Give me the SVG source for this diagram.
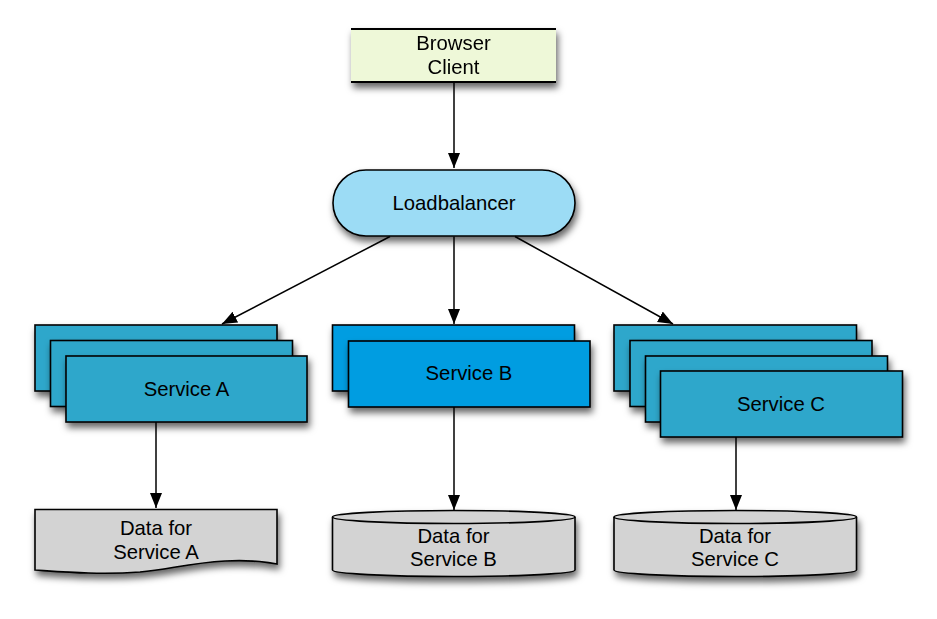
<svg xmlns="http://www.w3.org/2000/svg" width="937" height="619" viewBox="0 0 937 619">
<defs>
<filter id="sh" x="-10%" y="-20%" width="125%" height="150%">
<feDropShadow dx="2" dy="5" stdDeviation="3.5" flood-color="#000" flood-opacity="0.6"/>
</filter>
<marker id="ah" markerUnits="userSpaceOnUse" markerWidth="16" markerHeight="13" refX="15" refY="6" orient="auto">
<path d="M0,0 L15,6 L0,12 Z" fill="#000"/>
</marker>
<style>
text{font-family:"Liberation Sans",Arial,Helvetica,sans-serif;font-size:20.3px;fill:#000;text-anchor:middle}
.svcA{fill:#2EA7CB;stroke:#000;stroke-width:1.6}
.svcB{fill:#069DE1;stroke:#000;stroke-width:1.6}
.data{fill:#D3D3D3;stroke:#000;stroke-width:1.6}
.conn line{stroke:#000;stroke-width:1.5;marker-end:url(#ah)}
</style>
</defs>
<rect width="937" height="619" fill="#fff"/>

<g id="browser" filter="url(#sh)">
<rect x="351" y="29" width="205" height="53" fill="#EEF8D8"/>
<line x1="351" y1="29" x2="556" y2="29" stroke="#000" stroke-width="1.8"/>
<line x1="351" y1="82" x2="556" y2="82" stroke="#000" stroke-width="1.8"/>
<text x="453.5" y="50">Browser</text>
<text x="453.5" y="74">Client</text>
</g>

<g id="loadbalancer">
<rect x="333" y="170" width="242" height="66" rx="33" ry="33" fill="#9CDCF5" stroke="#000" stroke-width="1.6" filter="url(#sh)"/>
<text x="454" y="210">Loadbalancer</text>
</g>

<g id="serviceA">
<rect class="svcA" x="35" y="325" width="242" height="66" filter="url(#sh)"/>
<rect class="svcA" x="50.5" y="340.5" width="242" height="66" filter="url(#sh)"/>
<rect class="svcA" x="66" y="356" width="241" height="66" filter="url(#sh)"/>
<text x="186.5" y="396">Service A</text>
</g>

<g id="serviceB">
<rect class="svcB" x="332.5" y="325" width="242" height="66" filter="url(#sh)"/>
<rect class="svcB" x="348.5" y="341" width="241.5" height="66" filter="url(#sh)"/>
<text x="469" y="380">Service B</text>
</g>

<g id="serviceC">
<rect class="svcA" x="614" y="325" width="242.5" height="66" filter="url(#sh)"/>
<rect class="svcA" x="630" y="340.5" width="242" height="66" filter="url(#sh)"/>
<rect class="svcA" x="645.5" y="356" width="242" height="66" filter="url(#sh)"/>
<rect class="svcA" x="660.5" y="371" width="242" height="66" filter="url(#sh)"/>
<text x="781" y="411">Service C</text>
</g>

<g id="dataA">
<path class="data" filter="url(#sh)" d="M35,509.5 H277 V564 C262,561 245,560 225,561 C190,563 170,569 140,572 C100,575 65,572 35,570 Z"/>
<text x="156" y="535">Data for</text>
<text x="156" y="559">Service A</text>
</g>

<g id="dataB">
<path class="data" filter="url(#sh)" d="M332.5,517 A121.25,6.5 0 0 1 575,517 V570 A121.25,6.5 0 0 1 332.5,570 Z"/>
<path d="M332.5,517 A121.25,6.5 0 0 0 575,517" fill="none" stroke="#000" stroke-width="1.6"/>
<text x="453.5" y="543">Data for</text>
<text x="453.5" y="566">Service B</text>
</g>

<g id="dataC">
<path class="data" filter="url(#sh)" d="M614,517 A121.25,6.5 0 0 1 856.5,517 V570 A121.25,6.5 0 0 1 614,570 Z"/>
<path d="M614,517 A121.25,6.5 0 0 0 856.5,517" fill="none" stroke="#000" stroke-width="1.6"/>
<text x="735" y="543">Data for</text>
<text x="735" y="566">Service C</text>
</g>

<g id="connectors" class="conn">
<line x1="454" y1="82" x2="454" y2="168"/>
<line x1="390" y1="236.5" x2="222" y2="324"/>
<line x1="454" y1="236.5" x2="454" y2="324"/>
<line x1="515" y1="236.5" x2="673" y2="324"/>
<line x1="156" y1="422" x2="156" y2="508"/>
<line x1="454" y1="407" x2="454" y2="510"/>
<line x1="736" y1="437" x2="736" y2="510"/>
</g>
</svg>
